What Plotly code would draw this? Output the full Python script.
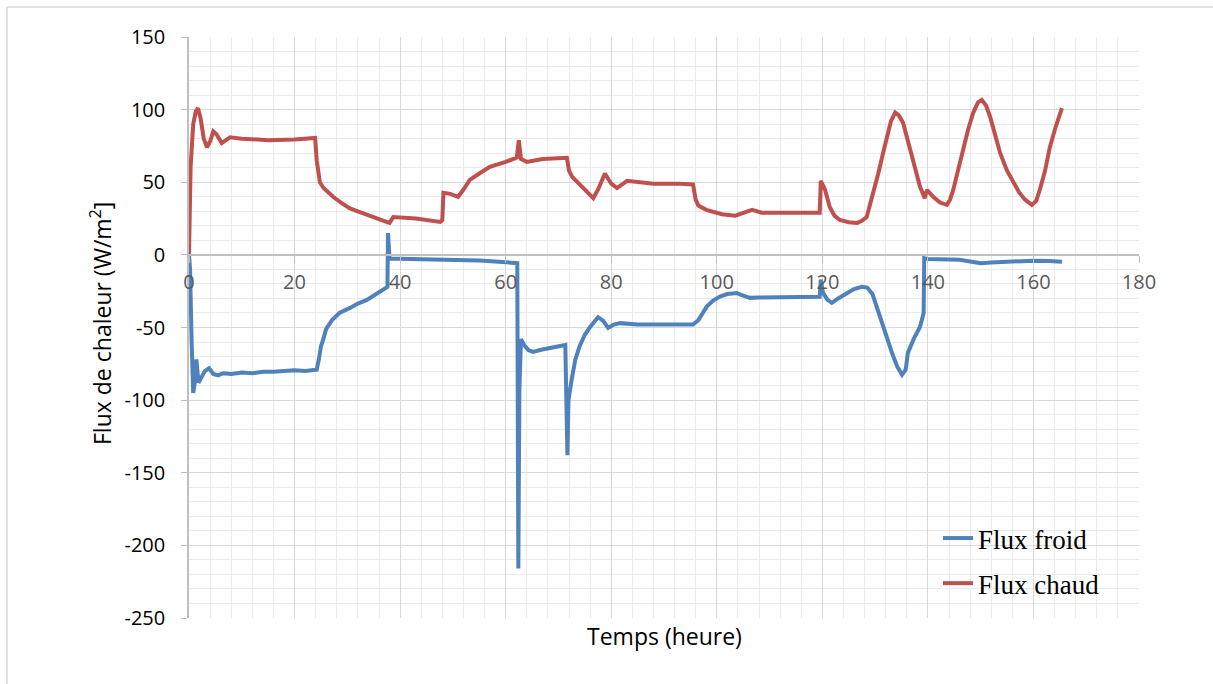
import plotly.graph_objects as go

# ---- data ----
t_froid = [0, 0.2, 0.5, 0.8, 1.1, 1.4, 1.8, 2.3, 3.0, 3.8, 4.6, 5.5, 6.5, 8, 10, 12, 14, 16, 18, 20, 22, 24.2,
           24.6, 25.0, 25.4, 26.0, 27.1, 28.5, 30.5, 32, 33.7, 35.5, 36.8, 37.6, 37.7, 38.0,
           42, 45, 48, 52, 55, 58, 60, 62.2,
           62.4, 62.6, 62.9, 63.5, 64.3, 65.2, 66.5, 68, 69.5, 71.3, 71.7, 71.9, 72.5, 73.2, 74, 75, 76,
           77.5, 78.5, 79.4, 80.5, 81.7, 85, 90, 95.5, 96.5, 97.3, 98.1, 99.3, 100.6, 102, 103.8,
           105, 106.3, 108, 112, 115.8, 119.5, 119.7, 120.1, 121, 121.8, 123, 124.5, 126, 127.5,
           128.5, 129.5, 130.9, 132, 133.2, 134.2, 135.1, 135.8, 136.2, 137.3, 138.5, 139.2,
           139.3, 140, 143, 146, 148, 150, 152, 155, 158, 160, 163, 165.4]
v_froid = [0, -10, -60, -95, -88, -72, -88, -84, -80, -78, -82, -83, -81.5, -82, -81, -81.5, -80.5, -80.5, -80, -79.5, -80, -79,
           -72, -63, -58.5, -51, -44.8, -40, -36.5, -33.5, -31, -27, -24, -22, 15, -2.5,
           -2.8, -3, -3.2, -3.4, -3.8, -4.5, -5, -5.7,
           -216, -93, -58, -62, -65.5, -66.8, -65.5, -64.5, -63.5, -62, -138, -100, -86, -72, -63, -55, -49.6,
           -42.9, -45.5, -50.3, -48, -47, -48, -48, -48, -45, -40, -35.6, -31.5, -28.7, -27, -26.3,
           -28, -29.6, -29.4, -29, -28.9, -28.9, -17, -26, -31, -33, -30, -26.5, -23.5, -22,
           -22.5, -27, -42.7, -56, -67.5, -77, -82.6, -79, -67.5, -58, -49.6, -40,
           -2.3, -2.8, -3.2, -3.4, -4.5, -5.7, -5.2, -4.5, -4, -4, -4.2, -4.8]

t_chaud = [0, 0.3, 0.8, 1.3, 1.7, 2.2, 2.8, 3.4, 4.0, 4.6, 5.2, 6.2, 7.0, 7.8, 10, 15, 20, 23.9,
           24.2, 24.5, 24.8, 25.5, 27.3, 29, 30.5, 32, 33.7, 35.5, 37.4, 38.0, 38.7, 43, 47.6,
           48.0, 48.2, 49.5, 51, 52, 53.2, 55, 57, 60, 62.1, 62.5, 62.9, 64, 67, 71.6,
           72.0, 72.6, 74.5, 76.6, 77.5, 78.8, 80, 81.1, 83, 88, 93, 95.5, 96.0, 96.5, 98, 101,
           103.5, 105, 106.7, 108.5, 115, 119.5, 119.7, 120.5, 121.4, 122.3, 123.3, 125, 126.6,
           127.5, 128.4, 129.5, 130.6, 131.5, 132.2, 133, 133.8, 134.5, 135.3, 136.2, 137.2, 138,
           138.5, 139.4, 139.8, 140.5, 141, 142.3, 143.6, 144.2, 144.8, 145.7, 146.7, 147.6, 148.6,
           149.5, 150.2, 151, 151.8, 152.8, 153.7, 155, 156.2, 157.3, 158.4, 159.7, 160.5, 161.2,
           162.2, 163.1, 164.2, 165.4]
v_chaud = [0, 60, 90, 99, 101, 94, 80, 74, 78, 85, 83, 77, 79, 81, 80, 79, 79.5, 80.5,
           65, 55, 50, 46, 40, 35.5, 32, 30, 27.5, 25.5, 22.7, 22, 26, 25, 22.7,
           24, 42.7, 42, 40, 45, 51.6, 56, 60.6, 64, 67, 79, 66, 64, 66, 66.8,
           58, 53.7, 47, 39, 45, 56, 49, 46, 51, 49, 49, 48.5, 38, 34, 31, 28,
           27, 29, 31, 29, 29, 29, 51, 45, 33, 27, 24, 22.5, 22,
           23.5, 26, 40, 56, 70, 81, 92, 98, 96, 91, 78, 65, 54,
           47, 39, 44.7, 42, 40, 36, 34.4, 38, 44.7, 58, 74, 86, 98,
           105, 106.7, 103, 95, 82, 70, 58, 49.6, 43, 38, 34.4, 37, 44.7,
           58, 74, 88, 101]

series_names = ["Flux froid", "Flux chaud"]
series_colors = ["#4F81BD", "#C0504D"]

x_range = [0, 180]
y_range = [-250, 150]
y_tickvals = [-250, -200, -150, -100, -50, 0, 50, 100, 150]
y_ticktext = ["-250", "-200", "-150", "-100", "-50", "0", "50", "100", "150"]
x_tickvals = [0, 20, 40, 60, 80, 100, 120, 140, 160, 180]
x_ticktext = ["0", "20", "40", "60", "80", "100", "120", "140", "160", "180"]

fig = go.Figure()
fig.add_trace(go.Scatter(x=t_froid, y=v_froid, mode="lines", name=series_names[0],
                         legendgroup="a",
                         line=dict(color=series_colors[0], width=4)))
fig.add_trace(go.Scatter(x=t_chaud, y=v_chaud, mode="lines", name=series_names[1],
                         legendgroup="b",
                         line=dict(color=series_colors[1], width=4)))

# plot area in pixels: left 189, right 1139, top 37, bottom 618
W, H = 1213, 684
L, R, T, B = 189, 1139, 37, 618


def px_x(px):
    return (px - L) / (R - L)


def px_y(py):
    return (B - py) / (B - T)


fig.update_layout(
    width=W, height=H,
    margin=dict(l=L, r=W - R, t=T, b=H - B),
    paper_bgcolor="white", plot_bgcolor="white",
    showlegend=True,
    legend=dict(x=px_x(938), y=px_y(514), xanchor="left", yanchor="top",
                bgcolor="rgba(0,0,0,0)", tracegroupgap=7,
                font=dict(family="Liberation Serif", size=27, color="black")),
    xaxis=dict(range=x_range, tickmode="array", tickvals=x_tickvals, ticktext=x_ticktext,
               anchor="free", position=0.625,
               showline=True, linecolor="#bfbfbf", linewidth=1.5,
               ticks="outside", ticklen=7, tickcolor="#bfbfbf", ticklabelstandoff=2,
               showgrid=True, gridcolor="#d9d9d9", gridwidth=1.2, zeroline=False,
               tickfont=dict(family="Open Sans", size=20, color="#595959"),
               minor=dict(dtick=4, tick0=0, ticks="", showgrid=True, gridcolor="#ebebeb", gridwidth=1)),
    yaxis=dict(range=y_range, tickmode="array", tickvals=y_tickvals, ticktext=y_ticktext,
               showline=True, linecolor="#bfbfbf", linewidth=1.5,
               ticks="outside", ticklen=6, tickcolor="#bfbfbf", ticklabelstandoff=12,
               showgrid=True, gridcolor="#d9d9d9", gridwidth=1.2, zeroline=False,
               tickfont=dict(family="Open Sans", size=20, color="black"),
               minor=dict(dtick=10, tick0=0, ticks="", showgrid=True, gridcolor="#ebebeb", gridwidth=1)),
    annotations=[
        dict(text="Temps (heure)", xref="paper", yref="paper", x=0.5, y=px_y(636),
             xanchor="center", yanchor="middle", showarrow=False,
             font=dict(family="Open Sans", size=23, color="black")),
        dict(text="Flux de chaleur (W/m<sup>2</sup>]", xref="paper", yref="paper",
             x=px_x(101), y=px_y(324), textangle=-90,
             xanchor="center", yanchor="middle", showarrow=False,
             font=dict(family="Open Sans", size=23, color="black")),
    ],
    shapes=[
        dict(type="line", xref="paper", yref="paper", x0=px_x(7), x1=px_x(7),
             y0=px_y(7), y1=px_y(700), line=dict(color="#d9d9d9", width=1.5)),
        dict(type="line", xref="paper", yref="paper", x0=px_x(7), x1=px_x(1230),
             y0=px_y(7), y1=px_y(7), line=dict(color="#d9d9d9", width=1.5)),
    ],
)

fig.write_html("out.html", config={"displayModeBar": False},
               post_script="document.body.style.margin='0px';")
